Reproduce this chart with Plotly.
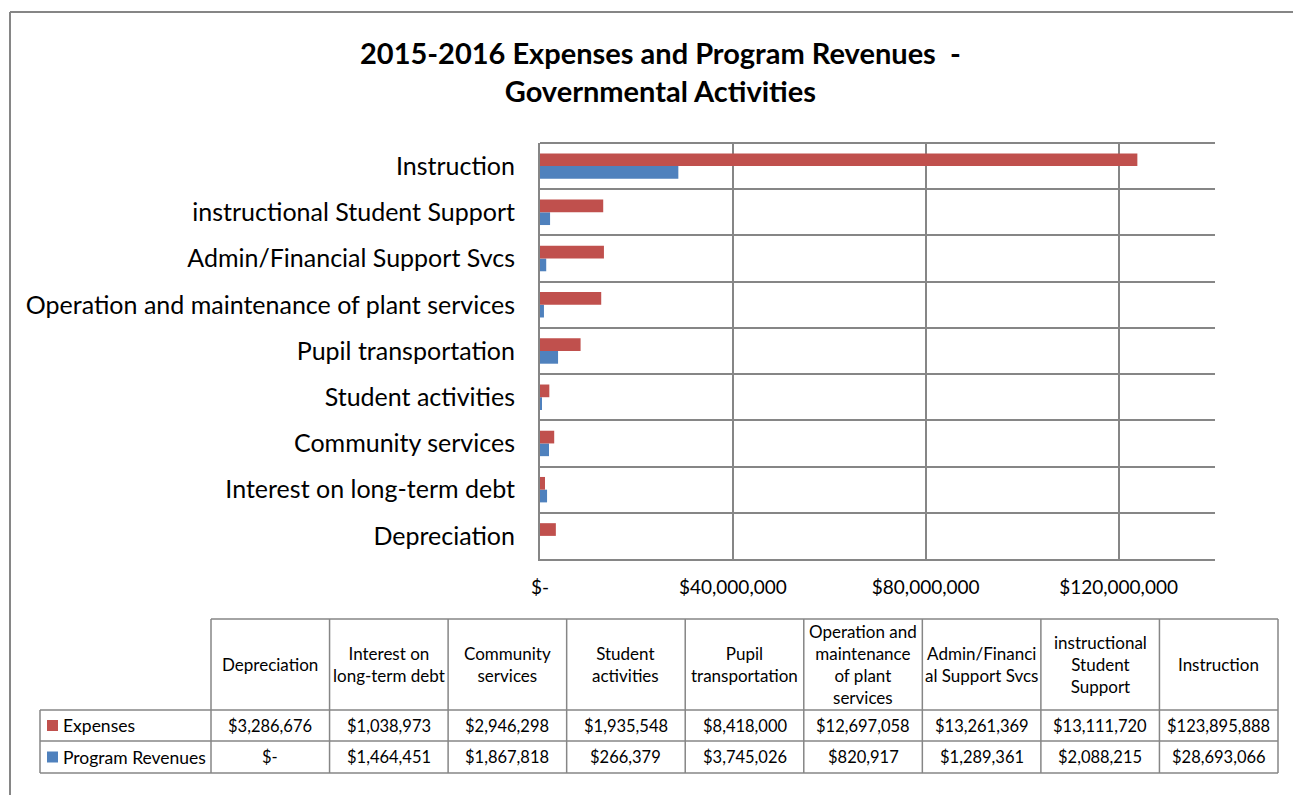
import plotly.graph_objects as go

# ---------------- data ----------------
categories = [
    "Depreciation",
    "Interest on long-term debt",
    "Community services",
    "Student activities",
    "Pupil transportation",
    "Operation and maintenance of plant services",
    "Admin/Financial Support Svcs",
    "instructional Student Support",
    "Instruction",
]
table_headers = [
    "Depreciation",
    "Interest on<br>long-term debt",
    "Community<br>services",
    "Student<br>activities",
    "Pupil<br>transportation",
    "Operation and<br>maintenance<br>of plant<br>services",
    "Admin/Financi<br>al Support Svcs",
    "instructional<br>Student<br>Support",
    "Instruction",
]
expenses = [3286676, 1038973, 2946298, 1935548, 8418000, 12697058, 13261369, 13111720, 123895888]
program_revenues = [0, 1464451, 1867818, 266379, 3745026, 820917, 1289361, 2088215, 28693066]
x_tickvals = [0, 40000000, 80000000, 120000000]
x_ticktext = ["$-", "$40,000,000", "$80,000,000", "$120,000,000"]
x_max = 140000000

title_text = "<b>2015-2016 Expenses and Program Revenues  -<br>Governmental Activities</b>"

RED = "#C0504D"
BLUE = "#4F81BD"
GRID = "#868686"
FONT = "Lato"

W, H = 1293, 795


def px(x):
    return x / W


def py(y):
    return 1 - y / H


def money(v):
    return "$-" if v == 0 else "${:,}".format(v)


fig = go.Figure()
fig.add_trace(go.Bar(y=categories, x=program_revenues, orientation="h",
                     marker=dict(color=BLUE, line=dict(width=0)), name="Program Revenues", showlegend=False))
fig.add_trace(go.Bar(y=categories, x=expenses, orientation="h",
                     marker=dict(color=RED, line=dict(width=0)), name="Expenses", showlegend=False))

plot_l, plot_r, plot_t, plot_b = 540, 1215, 143, 559

fig.update_layout(
    width=W, height=H, autosize=False,
    margin=dict(l=0, r=0, t=0, b=0, pad=0),
    paper_bgcolor="white", plot_bgcolor="white",
    barmode="group", bargap=0.45, bargroupgap=0.0,
    font=dict(family=FONT, color="black"),
    xaxis=dict(domain=[px(plot_l), px(plot_r)], range=[0, x_max], tickvals=x_tickvals,
               ticktext=x_ticktext, showgrid=True, gridcolor=GRID, gridwidth=2,
               showline=True, linecolor=GRID, linewidth=2, zeroline=False, automargin=False,
               ticks="", tickfont=dict(size=19, family=FONT), ticklabelstandoff=10),
    yaxis=dict(domain=[py(plot_b), py(plot_t)], type="category", tickson="boundaries",
               showgrid=True, gridcolor=GRID, gridwidth=2, showline=True, linecolor=GRID,
               linewidth=2, ticks="", tickfont=dict(size=25, family=FONT), ticklabelstandoff=18,
               automargin=False),
)

shapes = []
# outer chart border (top and left)
shapes.append(dict(type="line", xref="paper", yref="paper", x0=px(10), x1=1, y0=py(12), y1=py(12),
                   line=dict(color=GRID, width=2)))
shapes.append(dict(type="line", xref="paper", yref="paper", x0=px(10), x1=px(10), y0=py(12), y1=0,
                   line=dict(color=GRID, width=2)))
# plot top border
shapes.append(dict(type="line", xref="paper", yref="paper", x0=px(plot_l), x1=px(plot_r), y0=py(plot_t), y1=py(plot_t),
                   line=dict(color=GRID, width=2)))

# data table
col_edges = [211 + i * (1278 - 211) / 9 for i in range(10)]
t_top, t_h, t_r1, t_bot = 619, 710, 741, 773
label_left = 40
tl = dict(color=GRID, width=1.5)
shapes.append(dict(type="line", xref="paper", yref="paper", x0=px(col_edges[0]), x1=px(col_edges[-1]),
                   y0=py(t_top), y1=py(t_top), line=tl))
for ye in [t_h, t_r1, t_bot]:
    shapes.append(dict(type="line", xref="paper", yref="paper", x0=px(label_left), x1=px(col_edges[-1]),
                       y0=py(ye), y1=py(ye), line=tl))
for xe in col_edges:
    shapes.append(dict(type="line", xref="paper", yref="paper", x0=px(xe), x1=px(xe),
                       y0=py(t_top), y1=py(t_bot), line=tl))
shapes.append(dict(type="line", xref="paper", yref="paper", x0=px(label_left), x1=px(label_left),
                   y0=py(t_h), y1=py(t_bot), line=tl))
# legend keys
for (yc, col) in [((t_h + t_r1) / 2, RED), ((t_r1 + t_bot) / 2, BLUE)]:
    shapes.append(dict(type="rect", xref="paper", yref="paper", x0=px(47), x1=px(58),
                       y0=py(yc - 5.5), y1=py(yc + 5.5), fillcolor=col, line=dict(width=0)))

annotations = []
# title
annotations.append(dict(text=title_text, xref="paper", yref="paper", x=px(660), y=py(72),
                        xanchor="center", yanchor="middle", showarrow=False, align="center",
                        font=dict(size=29, family=FONT, color="black")))
hf = dict(size=17, family=FONT, color="black")
lf = dict(size=17.5, family=FONT, color="black")
vf = dict(size=16.5, family=FONT, color="black")
for i, hdr in enumerate(table_headers):
    xc = (col_edges[i] + col_edges[i + 1]) / 2
    annotations.append(dict(text=hdr, xref="paper", yref="paper", x=px(xc), y=py((t_top + t_h) / 2),
                            xanchor="center", yanchor="middle", showarrow=False, font=hf, align="center"))
    annotations.append(dict(text=money(expenses[i]), xref="paper", yref="paper", x=px(xc), y=py((t_h + t_r1) / 2),
                            xanchor="center", yanchor="middle", showarrow=False, font=vf))
    annotations.append(dict(text=money(program_revenues[i]), xref="paper", yref="paper", x=px(xc),
                            y=py((t_r1 + t_bot) / 2), xanchor="center", yanchor="middle", showarrow=False, font=vf))
annotations.append(dict(text="Expenses", xref="paper", yref="paper", x=px(61), y=py((t_h + t_r1) / 2),
                        xanchor="left", yanchor="middle", showarrow=False, font=lf))
annotations.append(dict(text="Program Revenues", xref="paper", yref="paper", x=px(61), y=py((t_r1 + t_bot) / 2),
                        xanchor="left", yanchor="middle", showarrow=False, font=lf))

fig.update_layout(shapes=shapes, annotations=annotations)

fig.write_html("out.html", config={"displayModeBar": False},
               post_script="document.body.style.margin='0';document.body.style.overflow='hidden';")
